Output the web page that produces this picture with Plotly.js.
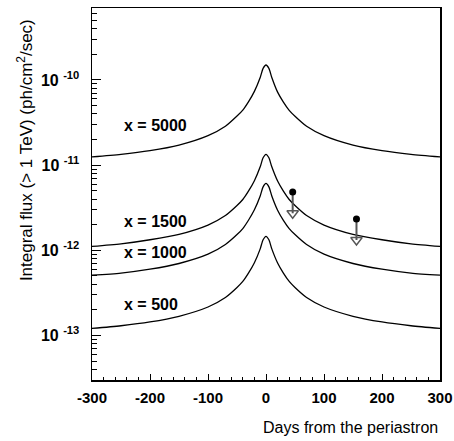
<!DOCTYPE html>
<html>
<head>
<meta charset="utf-8">
<script src="https://cdn.plot.ly/plotly-3.0.1.min.js"></script>
<style>html,body{margin:0;padding:0;background:#fff;}#chart{width:454px;height:441px;}</style>
</head>
<body>
<div id="chart"></div>
<script>
// ---- data ----
const days = [-300,-250,-200,-150,-100,-70,-50,-40,-30,-20,-10,-5,0,5,10,20,30,40,50,70,100,150,200,250,300];
const flux5000 = [1.25e-11,1.34e-11,1.48e-11,1.72e-11,2.22e-11,2.86e-11,3.77e-11,4.43e-11,5.57e-11,7.35e-11,1.07e-10,1.37e-10,1.5e-10,1.37e-10,1.07e-10,7.2e-11,5.5e-11,4.4e-11,3.75e-11,2.86e-11,2.22e-11,1.72e-11,1.48e-11,1.34e-11,1.25e-11];
const flux1500 = [1.11e-12,1.19e-12,1.33e-12,1.54e-12,1.98e-12,2.56e-12,3.36e-12,3.95e-12,4.98e-12,6.57e-12,9.55e-12,1.22e-11,1.34e-11,1.22e-11,9.55e-12,6.5e-12,4.95e-12,3.95e-12,3.36e-12,2.56e-12,1.98e-12,1.54e-12,1.33e-12,1.19e-12,1.11e-12];
const flux1000 = [5.1e-13,5.4e-13,6.0e-13,7.0e-13,9.0e-13,1.17e-12,1.53e-12,1.80e-12,2.27e-12,2.99e-12,4.35e-12,5.56e-12,6.1e-12,5.56e-12,4.35e-12,2.96e-12,2.25e-12,1.80e-12,1.53e-12,1.17e-12,9.0e-13,7.0e-13,6.0e-13,5.4e-13,5.1e-13];
const flux500 = [1.21e-13,1.30e-13,1.44e-13,1.68e-13,2.16e-13,2.79e-13,3.66e-13,4.31e-13,5.43e-13,7.15e-13,1.04e-12,1.33e-12,1.46e-12,1.33e-12,1.04e-12,7.1e-13,5.4e-13,4.31e-13,3.66e-13,2.79e-13,2.16e-13,1.68e-13,1.44e-13,1.30e-13,1.21e-13];
const seriesNames = ["x = 5000","x = 1500","x = 1000","x = 500"];
const labelDay = [-248,-248,-248,-248];
const labelFlux = [2.96e-11,2.19e-12,9.46e-13,2.32e-13];

// upper limits
const limDays = [46,156];
const limFlux = [4.85e-12,2.33e-12];
const limArrowTo = [2.72e-12,1.32e-12];

const xTicks = [-300,-200,-100,0,100,200,300];
const xTickText = ["-300","-200","-100","0","100","200","300"];
const yTicks = [1e-13,1e-12,1e-11,1e-10];
const yTickBase = ["10","10","10","10"];
const yTickExp = ["-13","-12","-11","-10"];

const FONT = "Liberation Sans, Arial, Helvetica, sans-serif";

// ---- build ----
const allSeries = [flux5000, flux1500, flux1000, flux500];
const traces = allSeries.map((ys, i) => ({
  x: days, y: ys, type: "scatter", mode: "lines", name: seriesNames[i],
  line: {color: "#000", width: 1.3, shape: "spline", smoothing: 0.7},
  hoverinfo: "skip"
}));

// stems of upper limits
const stemX = [], stemY = [];
limDays.forEach((d, i) => { stemX.push(d, d, null); stemY.push(limFlux[i], limArrowTo[i], null); });
traces.push({x: stemX, y: stemY, type: "scatter", mode: "lines",
  line: {color: "#555", width: 2}, hoverinfo: "skip"});
traces.push({x: limDays, y: limArrowTo, type: "scatter", mode: "markers",
  marker: {symbol: "triangle-down-open", size: 10, color: "#555", line: {width: 1.4, color: "#555"}}, hoverinfo: "skip"});
traces.push({x: limDays, y: limFlux, type: "scatter", mode: "markers",
  marker: {symbol: "circle", size: 7, color: "#000"}, hoverinfo: "skip"});

const minorVals = [];
for (let e = -14; e <= -10; e++) for (let m = 2; m <= 9; m++) minorVals.push(m * Math.pow(10, e));

const annotations = seriesNames.map((t, i) => ({
  x: labelDay[i], y: Math.log10(labelFlux[i]), xref: "x", yref: "y",
  text: "<b>" + t + "</b>", showarrow: false, xanchor: "left", yanchor: "middle",
  font: {family: FONT, size: 16, color: "#000"}
}));
annotations.push({
  text: "Integral flux (> 1 TeV) (ph/cm<sup>2</sup>/sec)", textangle: -90,
  xref: "paper", yref: "paper", x: -0.1925, y: 0.618, xanchor: "center", yanchor: "middle",
  showarrow: false, font: {family: FONT, size: 17, color: "#000"}
});
annotations.push({
  text: "Days from the periastron", xref: "paper", yref: "paper", x: 1.0, y: -0.127,
  xanchor: "right", yanchor: "middle", showarrow: false,
  font: {family: FONT, size: 16, color: "#000"}
});

const layout = {
  width: 454, height: 441,
  margin: {l: 92, r: 14, t: 8, b: 61},
  paper_bgcolor: "#fff", plot_bgcolor: "#fff",
  showlegend: false,
  xaxis: {
    range: [-300, 300], tickmode: "array", tickvals: xTicks,
    ticktext: xTickText.map(t => "<b>" + t + "</b>"),
    ticks: "inside", ticklen: 6, tickwidth: 1, tickcolor: "#000",
    minor: {ticks: "inside", ticklen: 3, tickwidth: 1, tickcolor: "#000", dtick: 20, tick0: 0, showgrid: false},
    showline: true, linecolor: "#000", linewidth: 1.5, mirror: true,
    showgrid: false, zeroline: false, ticklabelstandoff: 3,
    tickfont: {family: FONT, size: 15, color: "#000"}
  },
  yaxis: {
    type: "log", range: [Math.log10(3e-14), Math.log10(7e-10)],
    tickmode: "array", tickvals: yTicks,
    ticktext: yTickBase.map((b, i) => "<b>" + b + " <sup>" + yTickExp[i] + "</sup></b>"),
    ticks: "inside", ticklen: 9, tickwidth: 1, tickcolor: "#000",
    minor: {ticks: "inside", ticklen: 5, tickwidth: 1, tickcolor: "#000", tickmode: "array", tickvals: minorVals, showgrid: false},
    showline: true, linecolor: "#000", linewidth: 1.5, mirror: true,
    showgrid: false, zeroline: false, ticklabelstandoff: 8,
    tickfont: {family: FONT, size: 16, color: "#000"}
  },
  annotations: annotations
};

Plotly.newPlot("chart", traces, layout, {staticPlot: true, displayModeBar: false});
</script>
</body>
</html>
